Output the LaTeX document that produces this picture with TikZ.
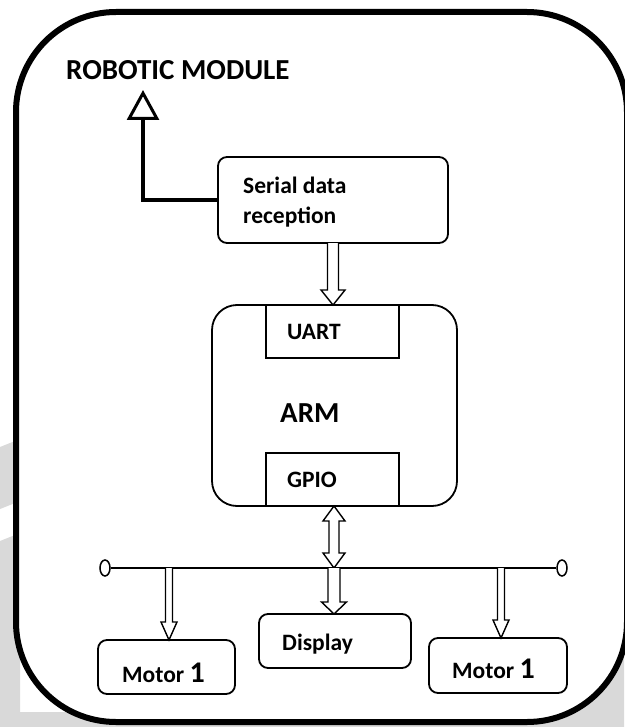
\documentclass[tikz,border=0pt]{standalone}
\usepackage{fontspec}
\setmainfont{Carlito}
\usetikzlibrary{arrows.meta,shapes.geometric,calc}
\definecolor{wm}{HTML}{D9D9D9}
\tikzset{
  box/.style={draw, line width=1.8pt, rounded corners=#1, inner sep=0pt, outer sep=0pt, fill=white},
  box/.default=9pt,
  port/.style={draw, line width=1.6pt, inner sep=0pt, outer sep=0pt, fill=white},
  lbl/.style={anchor=base west, inner sep=0pt, font=\fontsize{23.5}{30}\selectfont\bfseries},
  biglbl/.style={anchor=base west, inner sep=0pt, font=\fontsize{29}{34}\selectfont\bfseries},
  hollow/.style={draw, line width=1.4pt, fill=white, line join=miter},
  busend/.style={draw, ellipse, line width=1.5pt, minimum width=10pt, minimum height=16pt, inner sep=0pt, fill=white},
}
% hollow arrow pointing down: start, end, shaft half width, head half width, head height
\newcommand\hdown[5]{\draw[hollow] let \p1=(#1), \p2=(#2) in
  (\x1-#3pt,\y1) -- (\x1-#3pt,\y2+#5pt) -- (\x1-#4pt,\y2+#5pt) -- (\x1,\y2)
  -- (\x1+#4pt,\y2+#5pt) -- (\x1+#3pt,\y2+#5pt) -- (\x1+#3pt,\y1);}
% hollow double arrow (vertical)
\newcommand\hdouble[5]{\draw[hollow] let \p1=(#1), \p2=(#2) in
  (\x1,\y1) -- (\x1+#4pt,\y1-#5pt) -- (\x1+#3pt,\y1-#5pt) -- (\x1+#3pt,\y2+#5pt)
  -- (\x1+#4pt,\y2+#5pt) -- (\x1,\y2) -- (\x1-#4pt,\y2+#5pt) -- (\x1-#3pt,\y2+#5pt)
  -- (\x1-#3pt,\y1-#5pt) -- (\x1-#4pt,\y1-#5pt) -- cycle;}
\begin{document}
\begin{tikzpicture}[x=1pt,y=-1pt]
\useasboundingbox (0,0) rectangle (624,727);
\fill[white] (0,0) rectangle (624,727);
% watermark-like grey shapes behind the frame
\fill[wm] (0,447) -- (20,439) -- (20,501) -- (0,509) -- cycle;
\fill[wm] (0,541) -- (20,533) -- (20,727) -- (0,727) -- cycle;
\fill[wm] (0,712) rectangle (624,727);
\fill[wm] (624,630) -- (624,727) -- (520,727) -- cycle;
% outer frame
\draw[line width=6pt, rounded corners=100pt, fill=white] (16,12) rectangle (627,722);

% title
\node[biglbl] (title) at (66,80) {ROBOTIC MODULE};
\coordinate (rmtip) at (143,90);

% serial data reception
\node[box, minimum width=230pt, minimum height=86pt] (serial) at (333,200) {};
\node[lbl] (sertxt1) at (243,194) {Serial data};
\node[lbl] (sertxt2) at (243,223) {reception};
\draw[line width=3.5pt, -{Triangle[open, length=30pt, width=32pt, line width=3pt]}]
  (serial.west) -| (rmtip);

% ARM
\node[box=25pt, minimum width=245pt, minimum height=201pt] (arm) at (334.5,405.5) {};
\node[port, minimum width=133pt, minimum height=53pt] (uart) at (332.5,331.5) {};
\node[port, minimum width=133pt, minimum height=53pt] (gpio) at (332.5,479.5) {};
\node[lbl] (uarttxt) at (287,339) {UART};
\node[lbl] (gpiotxt) at (287,487) {GPIO};
\node[biglbl] (armtxt) at (280,422) {ARM};

\hdown{serial.south}{arm.north}{5.5}{12}{15}

% bus
\node[busend] (busL) at (105,568) {};
\node[busend] (busR) at (562,568) {};
\draw[line width=1.5pt] (busL) -- (busR);
\coordinate (bus1) at (169,568);
\coordinate (bus2) at (334,568);
\coordinate (bus3) at (501,568);

\hdouble{gpio.south -| bus2}{bus2}{5}{11}{15}

% peripherals
\node[box, minimum width=137pt, minimum height=54pt] (motorL) at (166.5,667) {};
\node[box, minimum width=152pt, minimum height=54pt] (display) at (335,641) {};
\node[box, minimum width=138pt, minimum height=55pt] (motorR) at (498,665.5) {};
\node[lbl] (motorLtxt) at (122,682) {Motor {\fontsize{30}{30}\selectfont 1}};
\node[lbl] (displaytxt) at (282,650) {Display};
\node[lbl] (motorRtxt) at (452,678) {Motor {\fontsize{30}{30}\selectfont 1}};

\hdown{bus1}{bus1 |- motorL.north}{3.5}{8}{18}
\hdown{bus2}{display.north}{6}{12.5}{12}
\hdown{bus3}{bus3 |- motorR.north}{3.5}{8}{18}
\end{tikzpicture}
\end{document}
